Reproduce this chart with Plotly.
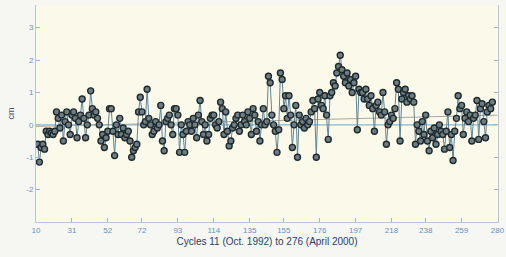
import plotly.graph_objects as go

# cycle numbers 11..277
cycles = list(range(11, 278))

values = [
    # 11-20
    -0.6, -1.15, -0.7, -0.6, -0.75, -0.2, -0.3, -0.2, -0.25, -0.3,
    # 21-30
    -0.2, 0.4, 0.2, -0.1, 0.3, -0.5, 0.1, 0.4, 0.0, -0.3,
    # 31-40
    0.3, 0.4, 0.2, -0.4, 0.1, 0.3, 0.8, 0.2, -0.4, 0.0,
    # 41-50
    0.3, 1.05, 0.5, 0.3, 0.4, 0.2, 0.0, -0.5, -0.3, -0.7,
    # 51-60
    -0.4, -0.2, 0.5, 0.5, -0.2, -0.95, 0.0, -0.3, 0.2, -0.3,
    # 61-70
    -0.1, -0.4, -0.3, -0.2, -0.5, -1.0, -0.8, -0.7, -0.6, 0.4,
    # 71-80
    0.85, 0.4, 0.0, 0.1, 1.1, 0.2, 0.0, -0.3, -0.2, 0.1,
    # 81-90
    -0.1, 0.0, 0.6, -0.5, -0.8, 0.1, 0.2, 0.3, 0.0, -0.3,
    # 91-100
    0.5, 0.5, 0.3, -0.85, 0.0, -0.3, -0.85, -0.2, 0.1, 0.0,
    # 101-110
    -0.2, 0.2, 0.0, -0.4, 0.3, 0.75, 0.1, -0.3, 0.0, -0.5,
    # 111-120
    -0.3, 0.2, 0.3, 0.3, 0.0, -0.1, 0.1, 0.7, 0.5, -0.3,
    # 121-130
    0.4, -0.2, -0.65, -0.5, -0.1, 0.0, 0.2, 0.3, -0.2, 0.0,
    # 131-140
    0.3, 0.1, 0.0, 0.4, 0.2, -0.3, 0.5, 0.3, -0.2, 0.1,
    # 141-150
    -0.5, 0.0, 0.5, 0.0, 0.1, 1.5, 1.3, 0.3, 0.0, -0.2,
    # 151-160
    -0.85, -0.15, 1.6, 1.4, 0.5, 0.9, 0.2, 0.9, 0.3, -0.7,
    # 161-170
    0.0, 0.6, -1.0, 0.3, 0.0, 0.1, -0.1, 0.2, 0.0, 0.1,
    # 171-180
    0.4, 0.75, 0.5, -1.0, 0.8, 1.0, 0.6, 0.5, 0.9, 0.3,
    # 181-190
    -0.45, 0.9, 1.0, 1.3, 1.2, 1.6, 1.8, 2.15, 1.7, 1.5,
    # 191-200
    1.3, 1.6, 1.2, 1.4, 1.0, 1.3, 1.5, -0.15, 1.1, 1.0,
    # 201-210
    1.0, 0.8, 1.1, 0.8, 0.6, 0.9, 0.5, -0.2, 0.6, 0.7,
    # 211-220
    0.4, 0.3, 1.0, 0.4, -0.6, 0.0, 0.1, 0.3, 0.2, 0.5,
    # 221-230
    1.3, 1.1, -0.5, 0.8, 1.0, 1.1, 0.7, 0.9, 0.8, 0.9,
    # 231-240
    0.7, -0.6, 0.0, -0.2, -0.5, 0.1, -0.3, 0.3, -0.5, -0.8,
    # 241-250
    -0.2, -0.4, -0.1, -0.6, -0.3, 0.0, -0.2, -0.3, -0.75, -0.2,
    # 251-260
    0.4, -0.7, -0.3, -1.1, -0.2, 0.2, 0.9, 0.5, 0.6, -0.3,
    # 261-270
    0.2, 0.4, 0.1, 0.3, -0.5, 0.2, 0.3, 0.75, -0.45, 0.5,
    # 271-277
    0.65, 0.1, -0.4, 0.4, 0.6, 0.5, 0.7,
]

trend_x = [10, 280]
trend_y = [-0.05, 0.3]

x_ticks = [10, 31, 52, 72, 93, 114, 135, 155, 176, 197, 218, 238, 259, 280]
y_ticks = [-2, -1, 0, 1, 2, 3]

fig = go.Figure()

# zero reference line
fig.add_trace(go.Scatter(x=[10, 280], y=[0, 0], mode="lines",
                         line=dict(color="#88b4cc", width=1.2),
                         hoverinfo="skip", showlegend=False))
# trend line
fig.add_trace(go.Scatter(x=trend_x, y=trend_y, mode="lines",
                         line=dict(color="#a8a8a0", width=1),
                         hoverinfo="skip", showlegend=False))
# data
fig.add_trace(go.Scatter(
    x=cycles, y=values, mode="lines+markers",
    line=dict(color="#5f8596", width=1.0),
    marker=dict(symbol="circle", size=6, color="#6f7d80",
                line=dict(color="#1e2a2e", width=1.4)),
    showlegend=False))

axis_font = dict(family="Liberation Sans, Arial, sans-serif", size=8, color="#6d8fb5")

fig.update_layout(
    width=506, height=257,
    margin=dict(l=36, r=8, t=5, b=35),
    paper_bgcolor="#f6f6f2",
    plot_bgcolor="#fbfaea",
    xaxis=dict(range=[10, 280.3], tickvals=x_ticks, ticktext=[str(v) for v in x_ticks],
               ticks="inside", ticklen=4, tickcolor="#9ab4c8", ticklabeloverflow="allow",
               showline=True, linecolor="#b4c8d6", linewidth=1, mirror=False,
               showgrid=False, zeroline=False, tickfont=axis_font, automargin=False,
               title=dict(text="Cycles 11 (Oct. 1992) to 276 (April 2000)",
                          font=dict(family="Liberation Sans, Arial, sans-serif", size=10, color="#2c3f66"),
                          standoff=4)),
    yaxis=dict(range=[-3, 3.7], tickvals=y_ticks, ticktext=[str(v) for v in y_ticks],
               ticks="inside", ticklen=4, tickcolor="#9ab4c8",
               showline=True, linecolor="#b4c8d6", linewidth=1, mirror="ticks",
               showgrid=False, zeroline=False, tickfont=axis_font, automargin=False,
               title=dict(text="cm", font=dict(family="Liberation Sans, Arial, sans-serif", size=9, color="#445566"),
                          standoff=10)),
)

fig.write_html("out.html", config={"displayModeBar": False},
               post_script="document.body.style.margin='0';document.body.style.overflow='hidden';")
